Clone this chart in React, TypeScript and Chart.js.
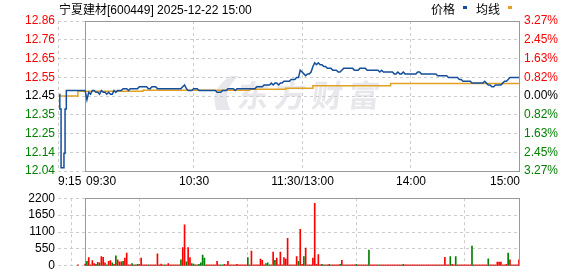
import { useEffect, useRef } from 'react';
import { Chart, registerables } from 'chart.js';

Chart.register(...registerables);

// ---------- text ----------
const stockTitle = '宁夏建材[600449] 2025-12-22 15:00';
const legendLabels = ['价格', '均线'];
const watermarkText = '东方财富';

// ---------- axes ----------
const prevClose = 12.45;
const priceMin = 12.043;
const priceMax = 12.857;
const priceTicks = [12.043, 12.145, 12.246, 12.348, 12.45, 12.552, 12.654, 12.755, 12.857];
const priceTickLabels = ['12.04', '12.14', '12.25', '12.35', '12.45', '12.55', '12.65', '12.76', '12.86'];
const pctTickLabels = ['3.27%', '2.45%', '1.63%', '0.82%', '0.00%', '0.82%', '1.63%', '2.45%', '3.27%'];
const volMax = 2200;
const volTicks = [0, 550, 1100, 1650, 2200];
const volTickLabels = ['0', '550', '1100', '1650', '2200'];
// minutes counted from 9:15
const dayStart = 0;
const sessionStart = 15;
const sessionEnd = 255;
const timeTicks = [0, 15, 75, 135, 195, 255];
const timeLabels = ['9:15', '09:30', '10:30', '11:30/13:00', '14:00', '15:00'];

// ---------- call auction (9:15-9:30) ----------
const auctionMinutes = [0.9, 1.0, 1.7, 3.3, 3.9, 4.6, 15];
const auctionPrices = [12.46, 12.38, 12.06, 12.14, 12.38, 12.48, 12.48];
const auctionVolMinute = 11;
const auctionVolume = 30;
const auctionVolDir = 'r';

// ---------- price per minute, 9:30 .. 15:00 ----------
const priceValues = [
  12.48, 12.43, 12.47, 12.46, 12.48, 12.48, 12.47, 12.47, 12.46, 12.48,
  12.47, 12.47, 12.46, 12.47, 12.46, 12.46, 12.48, 12.47, 12.48, 12.48,
  12.48, 12.49, 12.49, 12.49, 12.48, 12.49, 12.49, 12.49, 12.49, 12.49,
  12.50, 12.50, 12.50, 12.50, 12.50, 12.49, 12.49, 12.50, 12.50, 12.50,
  12.49, 12.49, 12.49, 12.49, 12.49, 12.49, 12.49, 12.49, 12.49, 12.49,
  12.49, 12.49, 12.49, 12.49, 12.50, 12.51, 12.49, 12.48, 12.48, 12.48,
  12.49, 12.49, 12.49, 12.48, 12.48, 12.48, 12.48, 12.48, 12.48, 12.48,
  12.48, 12.48, 12.48, 12.47, 12.47, 12.47, 12.48, 12.48, 12.48, 12.49,
  12.49, 12.49, 12.49, 12.48, 12.49, 12.49, 12.49, 12.49, 12.49, 12.49,
  12.49, 12.49, 12.49, 12.49, 12.49, 12.50, 12.50, 12.50, 12.50, 12.51,
  12.51, 12.51, 12.51, 12.52, 12.51, 12.52, 12.52, 12.51, 12.52, 12.52,
  12.53, 12.53, 12.53, 12.53, 12.54, 12.54, 12.54, 12.55, 12.55, 12.59,
  12.58, 12.57, 12.56, 12.57, 12.57, 12.58, 12.61, 12.63, 12.62, 12.63,
  12.62, 12.62, 12.61, 12.61, 12.60, 12.60, 12.60, 12.59, 12.59, 12.59,
  12.58, 12.58, 12.59, 12.60, 12.60, 12.60, 12.60, 12.60, 12.60, 12.59,
  12.59, 12.59, 12.60, 12.60, 12.60, 12.60, 12.59, 12.59, 12.59, 12.59,
  12.59, 12.59, 12.59, 12.58, 12.59, 12.58, 12.58, 12.58, 12.58, 12.58,
  12.58, 12.57, 12.57, 12.58, 12.57, 12.57, 12.58, 12.57, 12.57, 12.57,
  12.57, 12.57, 12.57, 12.57, 12.58, 12.58, 12.57, 12.57, 12.57, 12.57,
  12.57, 12.57, 12.57, 12.57, 12.57, 12.56, 12.56, 12.56, 12.56, 12.56,
  12.56, 12.55, 12.55, 12.55, 12.55, 12.55, 12.55, 12.54, 12.54, 12.53,
  12.53, 12.53, 12.53, 12.53, 12.52, 12.52, 12.52, 12.52, 12.52, 12.52,
  12.52, 12.53, 12.52, 12.51, 12.51, 12.50, 12.50, 12.51, 12.51, 12.51,
  12.51, 12.52, 12.53, 12.53, 12.54, 12.55, 12.55, 12.55, 12.55, 12.55,
  12.55,
];

// ---------- average price (changes at these minutes) ----------
const avgMinutes = [1, 11, 47, 106, 126, 141, 184, 255];
const avgValues = [12.45, 12.476, 12.481, 12.486, 12.492, 12.505, 12.518, 12.518];

// ---------- volume per minute, 9:30 .. 15:00 ----------
const volumeValues = [
  60, 149, 268, 30, 170, 70, 50, 110, 100, 297,
  277, 99, 30, 149, 170, 99, 50, 327, 198, 129,
  129, 149, 248, 416, 30, 30, 70, 30, 30, 45,
  45, 248, 30, 30, 30, 30, 30, 30, 30, 30,
  386, 30, 60, 30, 30, 30, 70, 30, 30, 30,
  30, 30, 30, 198, 594, 1337, 129, 594, 267, 70,
  60, 30, 30, 45, 100, 347, 248, 30, 30, 30,
  30, 30, 30, 149, 30, 30, 30, 45, 30, 149,
  30, 30, 30, 30, 45, 30, 30, 30, 30, 30,
  267, 30, 475, 30, 30, 30, 30, 218, 178, 30,
  70, 99, 30, 30, 445, 178, 248, 30, 445, 30,
  267, 218, 891, 30, 30, 30, 30, 297, 148, 1188,
  45, 297, 574, 30, 30, 30, 248, 2030, 45, 366,
  30, 45, 30, 30, 30, 45, 30, 30, 30, 30,
  30, 45, 178, 30, 30, 30, 30, 30, 30, 30,
  45, 30, 30, 30, 30, 30, 30, 515, 30, 30,
  30, 30, 30, 30, 30, 30, 30, 30, 30, 30,
  30, 30, 30, 30, 30, 30, 45, 30, 30, 30,
  30, 30, 30, 30, 30, 30, 30, 30, 30, 30,
  30, 30, 30, 30, 30, 30, 30, 30, 30, 277,
  30, 30, 297, 45, 30, 297, 30, 30, 30, 30,
  30, 30, 30, 30, 644, 30, 30, 30, 30, 30,
  30, 30, 30, 228, 30, 30, 30, 30, 119, 119,
  119, 30, 30, 45, 416, 198, 30, 30, 30, 30,
  198,
];
// r = up (red), g = down (green)
const volumeDirs = [
  'rgrrrrgrgr', 'rrgrrgrgrr', 'rgrrrrgrgg', 'rrrrrgrrrr', 'rrrrgrrrrr',
  'rrrgrrgrrg', 'grrggggrrr', 'rrrrrggrrr', 'rrrrrrrrrr', 'grrrrrrrrr',
  'ggrgrgrrrr', 'rrrrrrrrgr', 'rgrrrrrrrr', 'rgrgrrgrrr', 'rgrrrrrrrr',
  'grrrrrrgrr', 'rrgrrrrrrr', 'rrrrrrgrrr', 'rrrrrrrrrr', 'rrrrrrrrrr',
  'rrgrrgrrrr', 'rrrrgrrrrr', 'rrrgrrrrrr', 'rrrrgrrrrr', 'r',
].join('');

// ---------- styles ----------
const BLUE = '#154f9c';
const GOLD = '#e0a125';
const RED = '#ff0000';
const GREEN = '#008000';
const BLACK = '#000000';
const GRID = '#cccccc';
const FRAME = '#999999';
const WATERMARK = '#e8e8ec';
const FONT = '"Liberation Sans", Arial, "Noto Sans CJK SC", sans-serif';
const CJK = '"Noto Sans CJK SC", "Liberation Sans", sans-serif';

const align = (v: number) => Math.round(v - 0.5) + 0.5;

function framePlugin(id: string) {
  return {
    id,
    beforeDatasetsDraw(chart: any) {
      const ctx = chart.ctx;
      const xs = chart.scales.x;
      const { top, bottom } = chart.chartArea;
      const x1 = align(xs.getPixelForValue(sessionStart));
      const x2 = align(xs.getPixelForValue(sessionEnd));
      ctx.save();
      ctx.strokeStyle = FRAME;
      ctx.lineWidth = 1;
      ctx.setLineDash([]);
      ctx.strokeRect(x1, align(top), x2 - x1, align(bottom) - align(top));
      ctx.restore();
    },
  };
}

const priceDecor = {
  id: 'priceDecor',
  beforeDraw(chart: any) {
    const ctx = chart.ctx;
    const { left, right, top, bottom } = chart.chartArea;
    const cx = (left + right) / 2;
    const cy = (top + bottom) / 2;
    ctx.save();
    ctx.fillStyle = WATERMARK;
    // simple logo mark
    ctx.beginPath();
    ctx.moveTo(cx - 72, cy + 14);
    ctx.quadraticCurveTo(cx - 80, cy - 6, cx - 58, cy - 20);
    ctx.lineTo(cx - 50, cy - 20);
    ctx.quadraticCurveTo(cx - 68, cy - 4, cx - 58, cy + 14);
    ctx.closePath();
    ctx.fill();
    ctx.font = 'bold 31px ' + CJK;
    ctx.textBaseline = 'alphabetic';
    ctx.textAlign = 'left';
    const chars = Array.from(watermarkText);
    chars.forEach((c, i) => {
      ctx.save();
      ctx.translate(cx - 52 + i * 37, cy + 11);
      ctx.transform(1, 0, -0.12, 1, 0, 0);
      ctx.fillText(c, 0, 0);
      ctx.restore();
    });
    ctx.restore();
  },
  afterDraw(chart: any) {
    const ctx = chart.ctx;
    const xs = chart.scales.x;
    const { left, bottom } = chart.chartArea;
    ctx.save();
    // title
    ctx.fillStyle = BLACK;
    ctx.font = '12px ' + FONT;
    ctx.textBaseline = 'alphabetic';
    ctx.textAlign = 'left';
    ctx.fillText(stockTitle, left + 1, 14);
    // legend
    const legendColors = [BLUE, GOLD];
    const legendX = [431, 476];
    legendLabels.forEach((lab, i) => {
      ctx.fillStyle = BLACK;
      ctx.font = '12px ' + CJK;
      ctx.fillText(lab, legendX[i], 14);
      const w = ctx.measureText(lab).width;
      ctx.fillStyle = legendColors[i];
      ctx.fillRect(legendX[i] + w + 8, 6, 4, 3);
    });
    // time labels
    ctx.fillStyle = BLACK;
    ctx.font = '12px ' + FONT;
    ctx.textBaseline = 'middle';
    const aligns = ['left', 'left', 'center', 'center', 'center', 'right'];
    timeTicks.forEach((t, i) => {
      const px = xs.getPixelForValue(t);
      ctx.textAlign = aligns[i];
      const dx = aligns[i] === 'left' ? (i === 0 ? 0 : 1) : aligns[i] === 'right' ? 1 : 0.5;
      ctx.fillText(timeLabels[i], px + dx, bottom + 11);
    });
    ctx.restore();
  },
};

const priceTickColor = (c: any) => (c.index > 4 ? RED : c.index === 4 ? BLACK : GREEN);

export default function App() {
  const priceRef = useRef<HTMLCanvasElement>(null);
  const volRef = useRef<HTMLCanvasElement>(null);

  useEffect(() => {
    const setTicks = (vals: number[]) => (s: any) => {
      s.ticks = vals.map((v) => ({ value: v }));
    };
    const xScale = {
      type: 'linear',
      min: dayStart,
      max: sessionEnd,
      offset: false,
      afterBuildTicks: setTicks(timeTicks),
      ticks: { display: false },
      grid: { color: GRID, drawTicks: false, lineWidth: 1 },
      border: { display: false, dash: [3, 3] },
    };

    const priceChart = new Chart(priceRef.current as HTMLCanvasElement, {
      type: 'line',
      data: {
        datasets: [
          {
            label: 'avg',
            data: avgMinutes.map((m, i) => ({ x: m, y: avgValues[i] })),
            borderColor: GOLD,
            borderWidth: 1.5,
            pointRadius: 0,
            stepped: true,
            order: 2,
          },
          {
            label: 'auction',
            data: auctionMinutes.map((m, i) => ({ x: m, y: auctionPrices[i] })),
            borderColor: BLUE,
            borderWidth: 1.5,
            pointRadius: 0,
            stepped: true,
            order: 1,
          },
          {
            label: 'price',
            data: priceValues.map((v, i) => ({ x: sessionStart + i, y: v })),
            borderColor: BLUE,
            borderWidth: 1.5,
            pointRadius: 0,
            tension: 0,
            order: 1,
          },
        ],
      },
      options: {
        responsive: false,
        animation: false,
        events: [],
        layout: { padding: { left: 0, right: 0, top: 21, bottom: 17 } },
        plugins: { legend: { display: false }, tooltip: { enabled: false } },
        scales: {
          x: xScale as any,
          y: {
            position: 'left',
            min: priceMin,
            max: priceMax,
            afterBuildTicks: setTicks(priceTicks),
            afterFit: (s: any) => {
              s.width = 58;
            },
            ticks: {
              autoSkip: false,
              padding: 3,
              color: priceTickColor,
              font: { family: FONT, size: 12 },
              callback: (_v: any, i: number) => priceTickLabels[i],
            },
            grid: { color: GRID, drawTicks: false, lineWidth: 1 },
            border: { display: false, dash: [3, 3] },
          },
          yr: {
            position: 'right',
            min: priceMin,
            max: priceMax,
            afterBuildTicks: setTicks(priceTicks),
            afterFit: (s: any) => {
              s.width = 59;
            },
            ticks: {
              autoSkip: false,
              padding: 5,
              color: priceTickColor,
              font: { family: FONT, size: 12 },
              callback: (_v: any, i: number) => pctTickLabels[i],
            },
            grid: { drawOnChartArea: false, drawTicks: false },
            border: { display: false },
          },
        },
      },
      plugins: [priceDecor, framePlugin('priceFrame')],
    } as any);

    const volData = [
      { x: auctionVolMinute, y: auctionVolume },
      ...volumeValues.map((v, i) => ({ x: sessionStart + i, y: v })),
    ];
    const volColors = (auctionVolDir + volumeDirs).split('').map((c) => (c === 'r' ? RED : GREEN));

    const volChart = new Chart(volRef.current as HTMLCanvasElement, {
      type: 'bar',
      data: {
        datasets: [
          {
            label: 'volume',
            data: volData,
            backgroundColor: volColors,
            borderWidth: 0,
            barThickness: 1,
          },
        ],
      },
      options: {
        responsive: false,
        animation: false,
        events: [],
        layout: { padding: { left: 0, right: 59, top: 8, bottom: 8 } },
        plugins: { legend: { display: false }, tooltip: { enabled: false } },
        scales: {
          x: xScale as any,
          y: {
            position: 'left',
            min: 0,
            max: volMax,
            afterBuildTicks: setTicks(volTicks),
            afterFit: (s: any) => {
              s.width = 58;
            },
            ticks: {
              autoSkip: false,
              padding: 3,
              color: BLACK,
              font: { family: FONT, size: 12 },
              callback: (_v: any, i: number) => volTickLabels[i],
            },
            grid: { color: GRID, drawTicks: false, lineWidth: 1 },
            border: { display: false, dash: [3, 3] },
          },
        },
      },
      plugins: [framePlugin('volFrame')],
    } as any);

    return () => {
      priceChart.destroy();
      volChart.destroy();
    };
  }, []);

  return (
    <div style={{ position: 'absolute', left: 0, top: 0, width: 578, height: 276, background: '#fff' }}>
      <canvas
        ref={priceRef}
        width={578}
        height={188}
        style={{ position: 'absolute', left: 0, top: 0, width: 578, height: 188, display: 'block' }}
      />
      <canvas
        ref={volRef}
        width={578}
        height={88}
        style={{ position: 'absolute', left: 0, top: 188, width: 578, height: 88, display: 'block' }}
      />
    </div>
  );
}
